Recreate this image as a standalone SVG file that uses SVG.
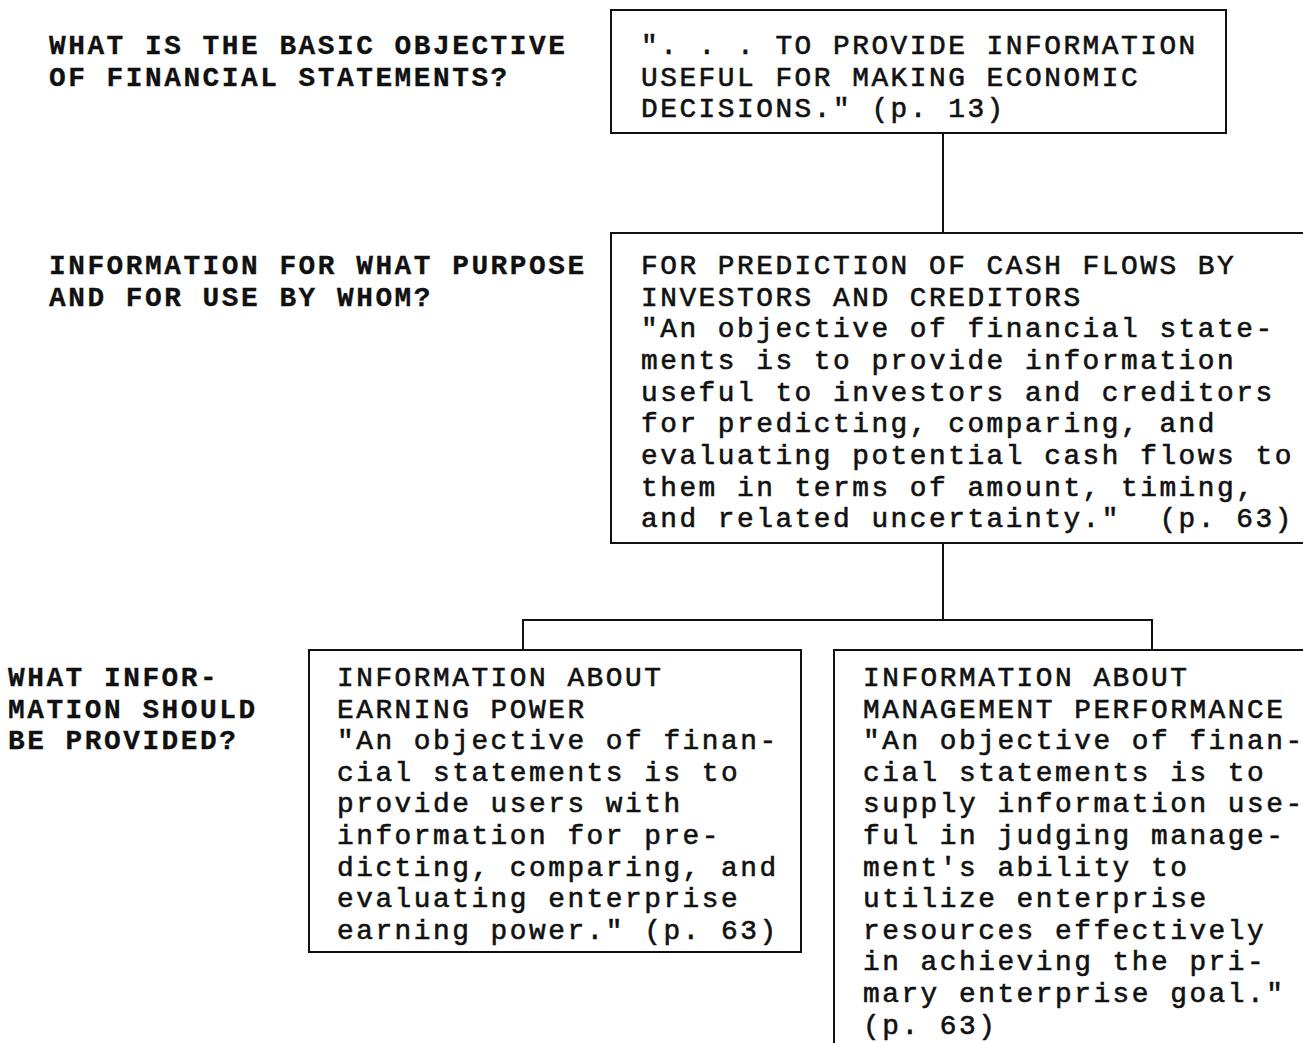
<svg xmlns="http://www.w3.org/2000/svg" width="1303" height="1043" viewBox="0 0 1303 1043">
  <style>
    .box { fill: #ffffff; stroke: #111111; stroke-width: 2; }
    .wire { fill: none; stroke: #111111; stroke-width: 2; }
    /* typewriter pitch: 19.2px per character, 31.6px per line */
    text { font-family: "Liberation Mono", "DejaVu Sans Mono", monospace; font-size: 27.8px; letter-spacing: 2.52px; fill: #111111; stroke: #111111; stroke-width: 0.6px; white-space: pre; }
    .q { font-weight: bold; stroke-width: 0.3px; }
  </style>
  <rect width="1303" height="1043" fill="#ffffff"/>

  <!-- left-hand question column -->
  <g id="question-objective">
    <text class="q" x="49" y="54">WHAT IS THE BASIC OBJECTIVE<tspan x="49" dy="31.6">OF FINANCIAL STATEMENTS?</tspan></text>
  </g>
  <g id="question-purpose">
    <text class="q" x="49" y="274">INFORMATION FOR WHAT PURPOSE<tspan x="49" dy="31.6">AND FOR USE BY WHOM?</tspan></text>
  </g>
  <g id="question-information">
    <text class="q" x="8" y="686">WHAT INFOR-<tspan x="8" dy="31.6">MATION SHOULD</tspan><tspan x="8" dy="31.6">BE PROVIDED?</tspan></text>
  </g>

  <!-- connectors -->
  <g id="connectors">
    <path class="wire" d="M943 133 V233"/>
    <path class="wire" d="M943 543 V620"/>
    <path class="wire" d="M523 650 V620 H1152 V650"/>
  </g>

  <g id="node-objective">
    <rect class="box" x="611" y="10" width="615" height="123"/>
    <text x="641" y="54">". . . TO PROVIDE INFORMATION<tspan x="641" dy="31.6">USEFUL FOR MAKING ECONOMIC</tspan><tspan x="641" dy="31.6">DECISIONS." (p. 13)</tspan></text>
  </g>

  <g id="node-cash-flows">
    <rect class="box" x="611" y="233" width="710" height="310"/>
    <text x="641" y="274">FOR PREDICTION OF CASH FLOWS BY<tspan x="641" dy="31.65">INVESTORS AND CREDITORS</tspan><tspan x="641" dy="31.65">"An objective of financial state-</tspan><tspan x="641" dy="31.65">ments is to provide information</tspan><tspan x="641" dy="31.65">useful to investors and creditors</tspan><tspan x="641" dy="31.65">for predicting, comparing, and</tspan><tspan x="641" dy="31.65">evaluating potential cash flows to</tspan><tspan x="641" dy="31.65">them in terms of amount, timing,</tspan><tspan x="641" dy="31.65">and related uncertainty."  (p. 63)</tspan></text>
  </g>

  <g id="node-earning-power">
    <rect class="box" x="309" y="650" width="492" height="302"/>
    <text x="337" y="686">INFORMATION ABOUT<tspan x="337" dy="31.6">EARNING POWER</tspan><tspan x="337" dy="31.6">"An objective of finan-</tspan><tspan x="337" dy="31.6">cial statements is to</tspan><tspan x="337" dy="31.6">provide users with</tspan><tspan x="337" dy="31.6">information for pre-</tspan><tspan x="337" dy="31.6">dicting, comparing, and</tspan><tspan x="337" dy="31.6">evaluating enterprise</tspan><tspan x="337" dy="31.6">earning power." (p. 63)</tspan></text>
  </g>

  <g id="node-management-performance">
    <rect class="box" x="834" y="650" width="490" height="420"/>
    <text x="863" y="686">INFORMATION ABOUT<tspan x="863" dy="31.6">MANAGEMENT PERFORMANCE</tspan><tspan x="863" dy="31.6">"An objective of finan-</tspan><tspan x="863" dy="31.6">cial statements is to</tspan><tspan x="863" dy="31.6">supply information use-</tspan><tspan x="863" dy="31.6">ful in judging manage-</tspan><tspan x="863" dy="31.6">ment's ability to</tspan><tspan x="863" dy="31.6">utilize enterprise</tspan><tspan x="863" dy="31.6">resources effectively</tspan><tspan x="863" dy="31.6">in achieving the pri-</tspan><tspan x="863" dy="31.6">mary enterprise goal."</tspan><tspan x="863" dy="31.6">(p. 63)</tspan></text>
  </g>
</svg>
